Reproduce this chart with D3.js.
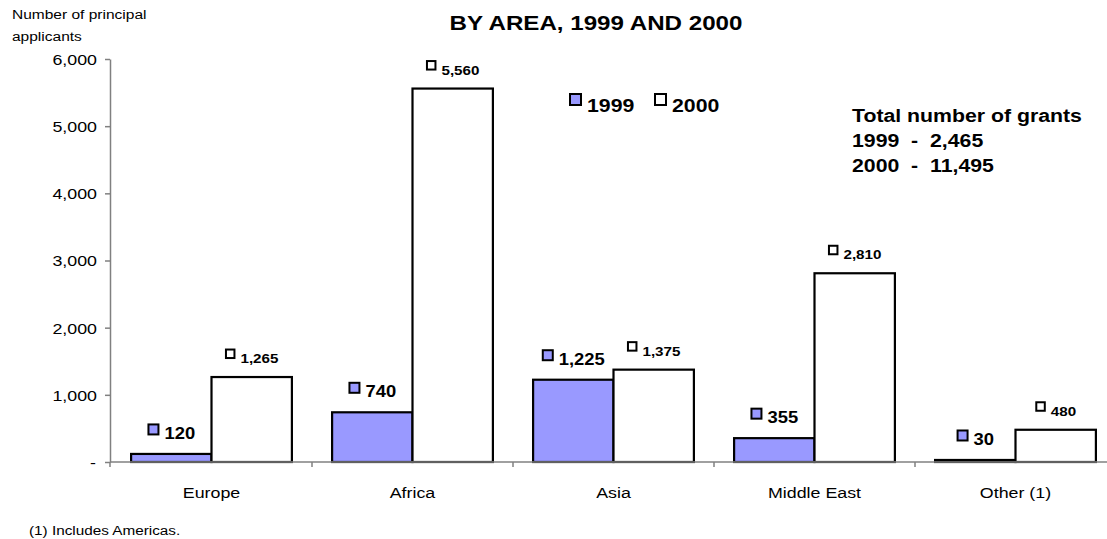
<!DOCTYPE html>
<html>
<head>
<meta charset="utf-8">
<script src="https://cdn.jsdelivr.net/npm/d3@7"></script>
<style>
  html, body { margin: 0; padding: 0; background: #fff; }
  svg { display: block; }
  text { font-family: Arial, "Liberation Sans", sans-serif; fill: #000; }
</style>
</head>
<body>
<svg id="chart" width="1107" height="539"></svg>
<script>
// ---- data ----
const categories = ["Europe", "Africa", "Asia", "Middle East", "Other (1)"];
const series = ["1999", "2000"];
const values1999 = [120, 740, 1225, 355, 30];
const values2000 = [1265, 5560, 1375, 2810, 480];
const yTicks = [0, 1000, 2000, 3000, 4000, 5000, 6000];
const titleText = "BY AREA, 1999 AND 2000";
const yTitleLines = ["Number of principal", "applicants"];
const totalsLines = ["Total number of grants", "1999  -  2,465", "2000  -  11,495"];
const footnote = "(1) Includes Americas.";

const SX = 1.15; // horizontal text stretch of the original
const BLUE = "#9999FF";
const AXIS = "#808080";

const svg = d3.select("#chart");

function txt(parent, x, y, str, size, opts = {}) {
  return parent.append("text")
    .attr("transform", `translate(${x},${y}) scale(${SX},1)`)
    .attr("font-size", size)
    .attr("font-weight", opts.bold ? "bold" : "normal")
    .attr("text-anchor", opts.anchor || "start")
    .style("white-space", "pre")
    .text(str);
}

// ---- scales ----
const x = d3.scaleBand().domain(categories).range([111, 1116]);
const y = d3.scaleLinear().domain([0, 6000]).range([462, 59]);
const barW = x.bandwidth() * 0.4;

// ---- y axis ----
const yAxis = svg.append("g").attr("transform", "translate(110,0)")
  .call(d3.axisLeft(y).tickValues(yTicks).tickSize(5).tickSizeOuter(0)
    .tickFormat(d => d === 0 ? "-" : d3.format(",")(d)));
yAxis.select(".domain").attr("stroke", AXIS).attr("stroke-width", 1.5);
yAxis.selectAll(".tick line").attr("stroke", AXIS).attr("stroke-width", 1.5);
yAxis.selectAll(".tick text")
  .attr("x", null).attr("dy", "0.35em")
  .attr("transform", `translate(-13,0) scale(${SX},1)`)
  .attr("font-size", 15.5)
  .attr("font-family", "Arial, 'Liberation Sans', sans-serif")
  .attr("fill", "#000");
yAxis.selectAll(".tick").filter(d => d === 0).select("text").attr("transform", `translate(-14,0) scale(${SX},1)`);

// ---- bars ----
const data = categories.map((c, i) => ({ c, v: [values1999[i], values2000[i]] }));
const groups = svg.append("g").selectAll("g").data(data).join("g");
groups.each(function (d) {
  const g = d3.select(this);
  const cx = x(d.c) + x.bandwidth() / 2;
  d.v.forEach((v, k) => {
    const x0 = k === 0 ? cx - barW : cx;
    g.append("rect")
      .attr("x", x0).attr("y", y(v))
      .attr("width", barW).attr("height", y(0) - y(v))
      .attr("fill", k === 0 ? BLUE : "#fff")
      .attr("stroke", "#000").attr("stroke-width", 2.2);
  });
});

// ---- x axis (drawn over bars' base) ----
const xg = svg.append("g");
xg.append("line").attr("x1", 110).attr("x2", 1116).attr("y1", y(0)).attr("y2", y(0))
  .attr("stroke", AXIS).attr("stroke-width", 1.5);
const bounds = categories.map(c => x(c)).slice(1).concat([110]);
xg.selectAll("line.tk").data(bounds).join("line").attr("class", "tk")
  .attr("x1", d => d).attr("x2", d => d).attr("y1", y(0)).attr("y2", y(0) + 5)
  .attr("stroke", AXIS).attr("stroke-width", 1.5);
categories.forEach(c => {
  txt(xg, x(c) + x.bandwidth() / 2, 498, c, 15.5, { anchor: "middle" });
});

// redraw bars' stroke on the base for crispness (bars are above axis line in reference)
groups.raise();

// ---- data labels ----
const lab = svg.append("g");
data.forEach(d => {
  const cx = x(d.c) + x.bandwidth() / 2;
  d.v.forEach((v, k) => {
    const bc = k === 0 ? cx - barW / 2 : cx + barW / 2;
    const fs = k === 0 ? 16 : 13.2;
    const ms = k === 0 ? 10 : 8.5;
    const gap = 5;
    const base = y(v) - (k === 0 ? 15 : 14);
    const t = txt(lab, 0, base, d3.format(",")(v), fs, { bold: true });
    const tw = t.node().getComputedTextLength() * SX;
    const total = ms + 2 + gap + tw;
    const left = bc - total / 2;
    t.attr("transform", `translate(${left + ms + 2 + gap},${base}) scale(${SX},1)`);
    lab.append("rect")
      .attr("x", left + 1).attr("y", base - (k === 0 ? 3.5 : 4) - ms - 1)
      .attr("width", ms).attr("height", ms)
      .attr("fill", k === 0 ? BLUE : "#fff")
      .attr("stroke", "#000").attr("stroke-width", 2);
  });
});

// ---- legend ----
const leg = svg.append("g");
[[569, series[0], BLUE], [654, series[1], "#fff"]].forEach(([lx, s, f]) => {
  leg.append("rect").attr("x", lx + 1).attr("y", 94).attr("width", 11).attr("height", 11)
    .attr("fill", f).attr("stroke", "#000").attr("stroke-width", 2);
  txt(leg, lx + 18, 112, s, 18.5, { bold: true });
});

// ---- totals note ----
totalsLines.forEach((l, i) => txt(svg, 852, 122 + i * 25, l, 18.5, { bold: true }));

// ---- titles ----
txt(svg, 596, 30, titleText, 21, { bold: true, anchor: "middle" });
yTitleLines.forEach((l, i) => txt(svg, 12, 19 + i * 22, l, 13.5));
txt(svg, 29, 535, footnote, 13.3);
</script>
</body>
</html>
